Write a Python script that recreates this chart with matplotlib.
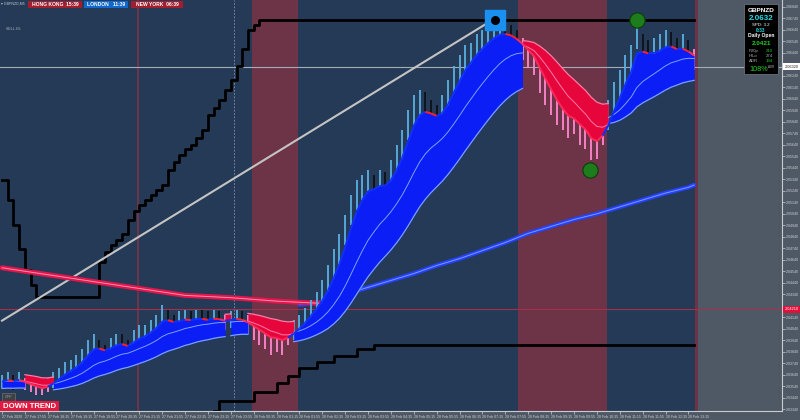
import numpy as np
import pandas as pd
import matplotlib
matplotlib.use("Agg")
import matplotlib.pyplot as plt
import matplotlib.transforms as mtransforms
from matplotlib.collections import LineCollection
from matplotlib.patches import Rectangle

plt.rcParams['font.family'] = ['Liberation Sans', 'DejaVu Sans']

# GBPNZD, 10 minute bars (2 x M5), 27 Feb 17:15 -> 28 Feb 13:25
hi = [2.0364, 2.0366, 2.0364, 2.0366, 2.0361, 2.0359, 2.0358, 2.0355, 2.0361, 2.0366,
      2.0370, 2.0375, 2.0377, 2.0381, 2.0386, 2.0394, 2.0399, 2.0394, 2.0390, 2.0396,
      2.0399, 2.0399, 2.0394, 2.0403, 2.0407, 2.0407, 2.0412, 2.0416, 2.0425, 2.0420,
      2.0416, 2.0419, 2.0420, 2.0419, 2.0420, 2.0420, 2.0419, 2.0420, 2.0419, 2.0416,
      2.0419, 2.0420, 2.0419, 2.0416, 2.0412, 2.0410, 2.0407, 2.0405, 2.0407, 2.0403,
      2.0407, 2.0412, 2.0416, 2.0422, 2.0429, 2.0436, 2.0446, 2.0459, 2.0473, 2.0486,
      2.0503, 2.0520, 2.0533, 2.0538, 2.0542, 2.0538, 2.0542, 2.0540, 2.0551, 2.0564,
      2.0577, 2.0594, 2.0607, 2.0612, 2.0610, 2.0603, 2.0599, 2.0607, 2.0620, 2.0633,
      2.0642, 2.0651, 2.0653, 2.0660, 2.0664, 2.0668, 2.0671, 2.0673, 2.0671, 2.0668,
      2.0664, 2.0657, 2.0651, 2.0647, 2.0633, 2.0625, 2.0616, 2.0607, 2.0599, 2.0596,
      2.0596, 2.0590, 2.0586, 2.0573, 2.0577, 2.0590, 2.0603, 2.0619, 2.0629, 2.0642,
      2.0651, 2.0673, 2.0660, 2.0655, 2.0657, 2.0660, 2.0664, 2.0662, 2.0657, 2.0660,
      2.0655, 2.0647]
lo = [2.0352, 2.0355, 2.0351, 2.0355, 2.0351, 2.0349, 2.0346, 2.0346, 2.0349, 2.0352,
      2.0358, 2.0361, 2.0364, 2.0366, 2.0372, 2.0379, 2.0384, 2.0381, 2.0377, 2.0381,
      2.0386, 2.0384, 2.0381, 2.0387, 2.0390, 2.0392, 2.0396, 2.0401, 2.0407, 2.0405,
      2.0401, 2.0403, 2.0407, 2.0403, 2.0407, 2.0405, 2.0403, 2.0407, 2.0405, 2.0403,
      2.0405, 2.0407, 2.0403, 2.0399, 2.0394, 2.0390, 2.0386, 2.0381, 2.0384, 2.0381,
      2.0390, 2.0394, 2.0401, 2.0407, 2.0413, 2.0419, 2.0425, 2.0433, 2.0446, 2.0459,
      2.0477, 2.0494, 2.0507, 2.0516, 2.0520, 2.0516, 2.0520, 2.0518, 2.0525, 2.0538,
      2.0551, 2.0568, 2.0581, 2.0586, 2.0581, 2.0577, 2.0575, 2.0581, 2.0594, 2.0607,
      2.0616, 2.0627, 2.0631, 2.0638, 2.0642, 2.0647, 2.0651, 2.0653, 2.0651, 2.0648,
      2.0642, 2.0638, 2.0631, 2.0625, 2.0609, 2.0599, 2.0590, 2.0581, 2.0577, 2.0570,
      2.0573, 2.0564, 2.0560, 2.0551, 2.0552, 2.0564, 2.0577, 2.0593, 2.0603, 2.0616,
      2.0625, 2.0647, 2.0633, 2.0629, 2.0631, 2.0636, 2.0640, 2.0638, 2.0633, 2.0636,
      2.0631, 2.0629]

# long moving average (red while falling, blue while rising)
lma_red_i = [0, 8, 16, 24, 32, 40, 48, 56]
lma_red_p = [2.0457, 2.0451, 2.0445, 2.0439, 2.0433, 2.0431, 2.0428, 2.0426]
lma_blue_i = [52, 56, 60, 64, 68, 72, 76, 80, 84, 88, 92, 96, 100, 104, 108, 112, 116, 120, 121]
lma_blue_p = [2.0425, 2.0427, 2.0434, 2.0440, 2.0446, 2.0452, 2.0459, 2.0465, 2.0472, 2.0479,
              2.0487, 2.0493, 2.0499, 2.0504, 2.0510, 2.0516, 2.0522, 2.0527, 2.0529]

# channel (step lines)
upper_i = [0, 1, 2, 3, 4, 5, 6, 17, 18, 19, 20, 21, 22, 23, 24, 25, 26, 27, 28, 29,
           30, 31, 32, 33, 34, 35, 36, 37, 38, 39, 40, 41, 42, 43, 44, 45, 121]
upper_p = [2.0533, 2.0516, 2.0494, 2.0473, 2.0455, 2.0442, 2.0432, 2.0462, 2.0471, 2.0477,
           2.0481, 2.0486, 2.0499, 2.0506, 2.0512, 2.0516, 2.0520, 2.0525, 2.0529, 2.0542,
           2.0549, 2.0555, 2.0560, 2.0564, 2.0570, 2.0577, 2.0590, 2.0596, 2.0603, 2.0612,
           2.0620, 2.0633, 2.0647, 2.0664, 2.0668, 2.0673, 2.0673]
lower_i = [37, 38, 44, 48, 50, 52, 55, 58, 62, 65, 121]
lower_p = [2.0332, 2.0341, 2.0349, 2.0357, 2.0363, 2.0370, 2.0375, 2.0380, 2.0386, 2.0390, 2.0390]

trend_i = [0, 86.2]
trend_p = [2.0411, 2.0674]

square_i, square_p = [86.2], [2.0673]
dots_i, dots_p = [102.8, 111.0], [2.0542, 2.0673]

sessions = [(23.6, 24.0), (43.7, 51.7), (90.2, 105.8), (121.2, 121.7)]
day_sep = 40.5
bid = 2.0632
daily_open = 2.0421

time_labels = ["27 Feb 2020", "27 Feb 17:55", "27 Feb 18:35", "27 Feb 19:15", "27 Feb 19:55",
               "27 Feb 20:35", "27 Feb 21:15", "27 Feb 21:55", "27 Feb 22:35", "27 Feb 23:15",
               "27 Feb 23:55", "28 Feb 00:35", "28 Feb 01:15", "28 Feb 01:55", "28 Feb 02:35",
               "28 Feb 03:15", "28 Feb 03:55", "28 Feb 04:35", "28 Feb 05:15", "28 Feb 05:55",
               "28 Feb 06:35", "28 Feb 07:15", "28 Feb 07:55", "28 Feb 08:35", "28 Feb 09:15",
               "28 Feb 09:55", "28 Feb 10:35", "28 Feb 11:15", "28 Feb 11:55", "28 Feb 12:35",
               "28 Feb 13:15"]

NAVY = '#253a56'
GREY = '#4f5965'

fig = plt.figure(figsize=(8, 4.2), dpi=100, facecolor=GREY)
ax = fig.add_axes([0, 9 / 420, 782 / 800, 411 / 420])
ax.set_facecolor(NAVY)
ax.set_xlim(-0.35, 136.36)
ax.set_ylim(2.03324, 2.0690)

n = len(hi)
x = np.arange(n)
hi_a = np.array(hi)
lo_a = np.array(lo)
mid = pd.Series((hi_a + lo_a) / 2)
fast = mid.ewm(span=3, adjust=False).mean().values
signal = mid.ewm(span=7, adjust=False).mean().values
lo_env = pd.Series(lo_a).ewm(span=20, adjust=False).mean().values
hi_env = pd.Series(hi_a).ewm(span=12, adjust=False).mean().values
in_bull = mid.ewm(span=12, adjust=False).mean().values
in_bear = mid.ewm(span=8, adjust=False).mean().values
bull = fast >= signal

# background zones
ax.axvspan(n - 0.3, 136.36, color=GREY, lw=0, zorder=0)
for a, b in sessions:
    ax.axvspan(a, b, color='#6d3347', lw=0, zorder=0.5)
ax.axvline(day_sep, color='#8796aa', lw=0.6, ls=(0, (2, 2)), zorder=1)
ax.axhline(bid, color='#a4adb6', lw=0.8, zorder=1)
ax.axhline(daily_open, color='#a3304c', lw=0.8, zorder=1)

# channel + trend line
ax.plot(upper_i, upper_p, color='black', lw=2, drawstyle='steps-post', zorder=2)
ax.plot(lower_i, lower_p, color='black', lw=2, drawstyle='steps-post', zorder=2)
ax.plot(trend_i, trend_p, color='#c4c4c4', lw=1.5, zorder=2)

# long MA
ax.plot(lma_blue_i, lma_blue_p, color='#2342ff', lw=3.2, zorder=2.5, solid_capstyle='round')
ax.plot(lma_blue_i, lma_blue_p, color='#8097ff', lw=0.7, zorder=2.6)
ax.plot(lma_red_i, lma_red_p, color='#e0164c', lw=3.6, zorder=2.7, solid_capstyle='round')
ax.plot(lma_red_i, lma_red_p, color='#ff90b0', lw=0.7, zorder=2.8)

# bars
up = np.r_[True, np.diff(mid.values) >= 0]
bar_col = np.where(bull, np.where(up, '#5ab0e2', '#0d1018'), '#ff88cf')
ax.vlines(x, lo_a, hi_a, colors=bar_col, lw=1.3, zorder=3)

# ribbon: band below price in bull runs, above price in bear runs
runs = []
start = 0
for k in range(1, n + 1):
    if k == n or bull[k] != bull[start]:
        runs.append((start, k - 1, bool(bull[start])))
        start = k
for a, b, is_bull in runs:
    e = min(b + 2, n)
    xs = x[a:e]
    env = lo_env if is_bull else hi_env
    inn = in_bull if is_bull else in_bear
    ax.fill_between(xs, fast[a:e], env[a:e], color='#0a1ef5' if is_bull else '#e6063c',
                    lw=0, zorder=4)
    light = '#7aa2ff' if is_bull else '#ff7aa6'
    ax.plot(xs, env[a:e], color=light, lw=0.9, zorder=4.5)
    ax.plot(xs, inn[a:e], color=light, lw=0.7, zorder=4.5)


def segs(xv, yv):
    pts = np.column_stack([xv, yv])
    return np.stack([pts[:-1], pts[1:]], axis=1)


down = np.diff(fast) < 0
fast_col = np.where(bull[1:], np.where(down, '#ff1f2a', '#1030ff'), '#ff2a5a')
ax.add_collection(LineCollection(segs(x, fast), colors=fast_col, linewidths=1.4, zorder=5))

# signals
ax.scatter(square_i, square_p, marker='s', s=210, color='#1a90f0', zorder=6)
ax.scatter(square_i, square_p, marker='o', s=30, color='black', zorder=7)
ax.scatter(dots_i, dots_p, marker='o', s=120, color='#1d7d1d', edgecolors='#0b3d0b', lw=0.8, zorder=6)

# axes styling
yt = np.arange(2.0334, 2.0690, 0.001)
ax.yaxis.tick_right()
ax.set_yticks(yt)
# labels hidden under the highlighted bid / daily-open boxes
ax.set_yticklabels(["" if min(abs(v - bid), abs(v - daily_open)) < 0.00045 else f"{v:.5f}" for v in yt])
ax.set_xticks(np.arange(0, n, 4))
ax.set_xticklabels(time_labels, ha='left')
ax.tick_params(axis='both', colors='#c9cdd2', labelsize=2.6, length=2, width=0.5, pad=0.8)
for s in ['top', 'left']:
    ax.spines[s].set_visible(False)
for s in ['right', 'bottom']:
    ax.spines[s].set_color('#c8ccd0')
    ax.spines[s].set_linewidth(0.8)

# highlighted price labels
blend = mtransforms.blended_transform_factory(ax.transAxes, ax.transData)
ax.text(1.003, bid, f"{bid:.5f}", transform=blend, fontsize=2.8, color='#222',
        va='center', ha='left', bbox=dict(boxstyle='square,pad=0.4', fc='white', ec='none'),
        clip_on=False)
ax.text(1.003, daily_open, f"{daily_open:.5f}", transform=blend, fontsize=2.8, color='white',
        va='center', ha='left', bbox=dict(boxstyle='square,pad=0.4', fc='#e0103a', ec='none'),
        clip_on=False)


def P(px, py):
    return px / 800, 1 - py / 420


def box(x0, y0, x1, y1, fc, ec='none', lw=0.6):
    fx, fy = P(x0, y1)
    fig.add_artist(Rectangle((fx, fy), (x1 - x0) / 800, (y1 - y0) / 420, transform=fig.transFigure,
                             facecolor=fc, edgecolor=ec, lw=lw))


# session clocks
box(28, 1, 82, 7.5, '#a11e2e')
box(84, 1, 128, 7.5, '#1068cc')
box(131, 1, 183, 7.5, '#a11e2e')
for cx, t in [(55, "HONG KONG  15:39"), (106, "LONDON   11:39"), (157, "NEW YORK  06:39")]:
    fig.text(*P(cx, 4.5), t, fontsize=3.6, color='white', weight='bold', ha='center', va='center')
fig.text(*P(1, 3.5), "▾ GBPNZD,M5", fontsize=2.6, color='#c0c8d0', ha='left', va='center')
fig.text(*P(6, 29), "SELL 4%", fontsize=2.6, color='#b0b8c0', ha='left', va='center')

# info panel
box(744, 4, 778, 74, 'black', '#6a7078')
fig.text(*P(761, 10), "GBPNZD", fontsize=4.6, color='white', weight='bold', ha='center', va='center')
fig.text(*P(761, 18), "2.0632", fontsize=5.8, color='#22dde6', weight='bold', ha='center', va='center')
fig.text(*P(761, 25), "SPD: 3.2", fontsize=3.2, color='white', ha='center', va='center')
fig.text(*P(761, 30.5), "0:33", fontsize=3.4, color='#22dde6', weight='bold', ha='center', va='center')
fig.text(*P(761, 36), "Daily Open", fontsize=3.6, color='white', weight='bold', ha='center', va='center')
fig.text(*P(761, 43.5), "2.0421", fontsize=4.6, color='#22d022', weight='bold', ha='center', va='center')
for yy, lab, val, vc in [(51, "P20p", "210", '#22d022'), (56, "HiLo", "274", '#b0b0b0'),
                         (61, "ADR", "194", '#22d022')]:
    fig.text(*P(749, yy), lab, fontsize=3.1, color='#b0b0b0', ha='left', va='center')
    fig.text(*P(773, yy), val, fontsize=3.1, color=vc, ha='right', va='center')
fig.text(*P(768, 69.5), "108%", fontsize=5.2, color='#22d022', ha='right', va='center')
fig.text(*P(768.5, 67), "ADR", fontsize=2.2, color='#b0b0b0', ha='left', va='center')

# bottom-left buttons
box(2, 393, 15, 402, '#3d4146', '#707070', 0.5)
fig.text(*P(8.5, 397.5), "OFF", fontsize=2.8, color='#a0a0a0', ha='center', va='center')
box(0, 401, 59, 411, '#e21a40')
fig.text(*P(29.5, 406), "DOWN TREND", fontsize=5.6, color='white', weight='bold', ha='center', va='center')

fig.savefig("out.png", dpi=100, facecolor=GREY)
